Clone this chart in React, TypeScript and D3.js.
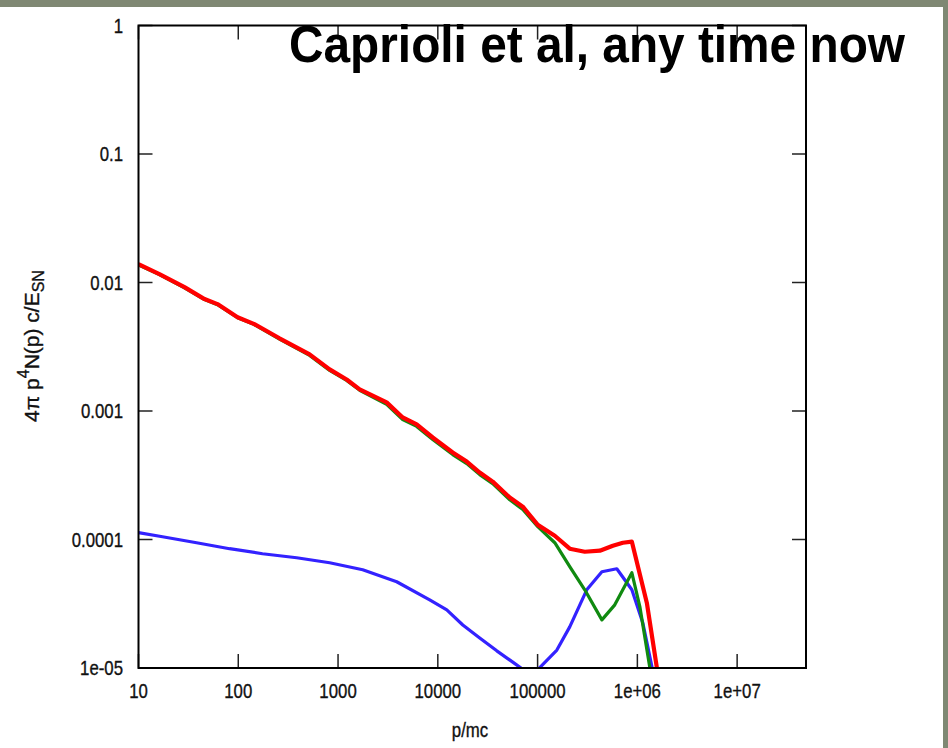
import React, { useEffect } from "react";
import * as d3 from "d3";

const xTickValues = [10, 100, 1000, 1e4, 1e5, 1e6, 1e7];
const xTickLabels = ["10", "100", "1000", "10000", "100000", "1e+06", "1e+07"];
const yTickValues = [1, 0.1, 0.01, 0.001, 0.0001, 1e-5];
const yTickLabels = ["1", "0.1", "0.01", "0.001", "0.0001", "1e-05"];

// total spectrum (red)
const redP = [10, 16.2, 28.9, 45.9, 61.9, 98.4, 145, 259, 519, 824, 1220, 1648, 3070, 4445, 6140, 8890, 14100, 19500, 26300, 35500, 52600, 71100, 100400, 148700, 210000, 297000, 421000, 568000, 716000, 881000, 1.245e6, 1.57e6, 1.76e6];
const redV = [0.0139, 0.01164, 0.0092, 0.00743, 0.00679, 0.00537, 0.00474, 0.00368, 0.00276, 0.00211, 0.00176, 0.001475, 0.001167, 0.000891, 0.000786, 0.000622, 0.000475, 0.000404, 0.000332, 0.000282, 0.000212, 0.00018, 0.00013, 0.000107, 8.48e-5, 8.03e-5, 8.18e-5, 8.95e-5, 9.44e-5, 9.62e-5, 3.21e-5, 1e-5, 5.6e-6];

// green component
const greenP = [10, 16.2, 28.9, 45.9, 61.9, 98.4, 145, 259, 519, 824, 1220, 1648, 3070, 4445, 6140, 8890, 14100, 19500, 26300, 35500, 52600, 71100, 100400, 148700, 210000, 297000, 441000, 594000, 881000, 1.06e6, 1.33e6, 1.49e6];
const greenV = [0.0137, 0.01153, 0.0091, 0.00736, 0.00672, 0.00532, 0.0047, 0.00362, 0.00271, 0.00207, 0.00173, 0.00145, 0.001125, 0.000859, 0.000759, 0.0006, 0.000458, 0.00039, 0.00032, 0.000272, 0.000204, 0.000171, 0.000126, 9.44e-5, 6.14e-5, 4.06e-5, 2.37e-5, 3.1e-5, 5.51e-5, 2.99e-5, 1.02e-5, 5.6e-6];

// blue component
const blueP = [10, 17.4, 38.2, 81.8, 175, 385, 824, 1766, 3870, 8290, 12300, 17800, 26300, 39000, 56400, 87500, 156000, 210000, 311000, 441000, 622000, 881000, 1.135e6, 1.4e6, 1.57e6];
const blueV = [1.13e-4, 1.05e-4, 9.44e-5, 8.48e-5, 7.75e-5, 7.21e-5, 6.59e-5, 5.81e-5, 4.69e-5, 3.39e-5, 2.83e-5, 2.16e-5, 1.71e-5, 1.36e-5, 1.11e-5, 8.7e-6, 1.38e-5, 2.09e-5, 4.06e-5, 5.61e-5, 5.92e-5, 4.06e-5, 2.24e-5, 1.02e-5, 5.6e-6];

const W = 948;
const H = 748;
const L = 138.5;
const R = 806;
const T = 25.5;
const B = 668;
const FONT = "'Liberation Sans', Arial, Helvetica, sans-serif";
const SX = 0.84; // horizontal condensing of label text
const LFS = 20; // label font size

function Label(props: { x: number; y: number; anchor: string; children: React.ReactNode }) {
  return (
    <text
      transform={`translate(${props.x},${props.y}) scale(${SX},1)`}
      textAnchor={props.anchor}
      fontFamily={FONT}
      fontSize={LFS}
      fill="#111"
      stroke="#111"
      strokeWidth={0.35}
    >
      {props.children}
    </text>
  );
}

export default function App() {
  useEffect(() => {
    document.body.style.margin = "0";
  }, []);

  const x = d3.scaleLog().domain([10, 4.9e7]).range([L, R]);
  const y = d3.scaleLog().domain([1e-5, 1]).range([B, T]);

  const line = d3
    .line<[number, number]>()
    .x((d) => x(d[0]))
    .y((d) => y(d[1]));

  const zip = (ps: number[], vs: number[]) => ps.map((p, i) => [p, vs[i]] as [number, number]);

  const series = [
    { p: blueP, v: blueV, color: "#3322ff", w: 3.2 },
    { p: greenP, v: greenV, color: "#108a10", w: 3.2 },
    { p: redP, v: redV, color: "#ff0000", w: 4.2 },
  ];

  return (
    <svg width={W} height={H} style={{ display: "block", position: "absolute", left: 0, top: 0 }}>
      <defs>
        <clipPath id="plotclip">
          <rect x={L} y={T} width={R - L} height={B - T} />
        </clipPath>
      </defs>
      <rect x={0} y={0} width={W} height={H} fill="#7f8873" />
      <rect x={0} y={7} width={943} height={H - 7} fill="#ffffff" />

      {/* ticks */}
      {xTickValues.map((t, i) => (
        <g key={"xt" + i}>
          <line x1={x(t)} x2={x(t)} y1={B} y2={B - 14} stroke="#222" strokeWidth={1.5} />
          <line x1={x(t)} x2={x(t)} y1={T} y2={T + 14} stroke="#222" strokeWidth={1.5} />
          <Label x={x(t)} y={698} anchor="middle">
            {xTickLabels[i]}
          </Label>
        </g>
      ))}
      {yTickValues.map((t, i) => (
        <g key={"yt" + i}>
          <line x1={L} x2={L + 14} y1={y(t)} y2={y(t)} stroke="#222" strokeWidth={1.5} />
          <line x1={R} x2={R - 14} y1={y(t)} y2={y(t)} stroke="#222" strokeWidth={1.5} />
          <Label x={123} y={y(t) + 7} anchor="end">
            {yTickLabels[i]}
          </Label>
        </g>
      ))}

      <g clipPath="url(#plotclip)">
        {series.map((s, i) => (
          <path
            key={"s" + i}
            d={line(zip(s.p, s.v)) || ""}
            fill="none"
            stroke={s.color}
            strokeWidth={s.w}
            strokeLinejoin="round"
          />
        ))}
      </g>

      <text
        x={289}
        y={62}
        fontFamily={FONT}
        fontWeight="bold"
        fontSize={52}
        fill="#000"
        textLength={616}
        lengthAdjust="spacingAndGlyphs"
      >
        Caprioli et al, any time now
      </text>

      <rect x={L} y={T} width={R - L} height={B - T} fill="none" stroke="#000" strokeWidth={2} />

      <Label x={470} y={737} anchor="middle">
        p/mc
      </Label>

      <text
        transform={`translate(39, 346) rotate(-90)`}
        textAnchor="middle"
        fontFamily={FONT}
        fontSize={21}
        fill="#111"
        stroke="#111"
        strokeWidth={0.35}
      >
        4π p<tspan dy={-10} fontSize={16}>4</tspan>
        <tspan dy={10}>N(p) c/E</tspan>
        <tspan dy={5} fontSize={16}>SN</tspan>
      </text>
    </svg>
  );
}
